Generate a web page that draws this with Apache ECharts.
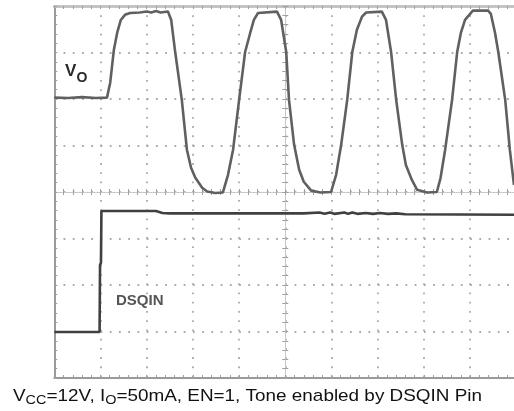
<!DOCTYPE html>
<html><head><meta charset="utf-8">
<script src="https://cdn.jsdelivr.net/npm/echarts@6/dist/echarts.min.js"></script>
<style>html,body{margin:0;padding:0;background:#fff}#c{width:514px;height:411px}</style>
</head><body><div id="c"></div>
<script>
// Time axis in scope divisions (0..10), level in vertical divisions (-4..4, 0 = centre line)
const voTime = [0, 0.3, 0.6, 0.9, 1.14, 1.21, 1.29, 1.36, 1.44, 1.53, 1.64, 1.85, 2.0, 2.1, 2.2, 2.3, 2.46,
  2.53, 2.61, 2.76, 2.87, 2.96, 3.05, 3.20, 3.31, 3.48, 3.65,
  3.76, 3.87, 4.00, 4.13, 4.24, 4.32, 4.41, 4.82,
  4.91, 5.02, 5.08, 5.19, 5.30, 5.40, 5.56, 5.76, 5.99,
  6.10, 6.21, 6.34, 6.45, 6.55, 6.66, 6.75, 7.09,
  7.18, 7.29, 7.40, 7.53, 7.61, 7.74, 7.85, 8.07, 8.28,
  8.36, 8.46, 8.61, 8.72, 8.80, 8.89, 9.06, 9.39,
  9.45, 9.54, 9.61, 9.76, 9.86, 9.95];
const voLevel = [2.03, 2.02, 2.04, 2.02, 2.03, 2.35, 3.06, 3.42, 3.70, 3.81, 3.85, 3.86, 3.88, 3.86, 3.89, 3.86, 3.88,
  3.70, 3.06, 1.98, 0.91, 0.52, 0.31, 0.09, 0.01, -0.02, -0.01,
  0.37, 0.91, 1.98, 3.01, 3.42, 3.70, 3.85, 3.88,
  3.70, 3.01, 1.98, 1.02, 0.48, 0.22, 0.03, -0.01, 0.0,
  0.37, 1.02, 1.98, 3.01, 3.49, 3.77, 3.86, 3.88,
  3.70, 3.01, 1.98, 1.02, 0.58, 0.26, 0.05, -0.01, 0.0,
  0.30, 0.91, 1.98, 3.01, 3.42, 3.70, 3.90, 3.90,
  3.83, 3.42, 3.01, 1.98, 0.91, 0.15];
const dsqTime = [0, 0.98, 0.99, 1.01, 1.02, 2.2, 2.27, 2.3, 2.34, 2.5, 5.4,
  5.74, 5.85, 5.97, 6.06, 6.28, 6.36, 6.45, 6.56, 6.74, 6.9, 7.05, 7.22, 7.4, 7.6, 10];
const dsqLevel = [-3.01, -3.01, -1.57, -1.52, -0.41, -0.41, -0.43, -0.40, -0.45, -0.46, -0.46,
  -0.44, -0.47, -0.44, -0.47, -0.44, -0.47, -0.44, -0.47, -0.45, -0.47, -0.45, -0.47, -0.46, -0.48, -0.49];
const captionPieces = ['V', 'CC', '=12V, I', 'O', '=50mA, EN=1, Tone enabled by DSQIN Pin'];
const captionIsSub = [false, true, false, true, false];

const FONT = '"Liberation Sans", Arial, sans-serif';
const gridBox = {left: 54.3, top: 6, right: -2.3, bottom: 33, outerBoundsMode: 'none', containLabel: false};
const tickCol = '#a0a0a0';

function axisCommon(extra) {
  return Object.assign({
    type: 'value', axisLabel: {show: false}, splitLine: {show: false},
    axisTick: {show: true, inside: true, length: 3, lineStyle: {color: tickCol, width: 1}},
    minorTick: {show: true, splitNumber: 5, length: 3, lineStyle: {color: tickCol, width: 1}}
  }, extra);
}
const dotted = {show: true, lineStyle: {color: '#ababab', width: 1.8, type: [1.8, 7.44]}};

// caption layout measured with canvas
const mc = document.createElement('canvas').getContext('2d');
const mainSize = 17, subSize = 13;
let cx = 0; const capChildren = [];
captionPieces.forEach((t, i) => {
  const sz = captionIsSub[i] ? subSize : mainSize;
  mc.font = sz + 'px ' + FONT;
  capChildren.push({type: 'text', x: cx, y: captionIsSub[i] ? 400.5 : 396,
    style: {text: t, fontSize: sz, fontFamily: FONT, fill: '#111', align: 'left', verticalAlign: 'middle'}});
  cx += mc.measureText(t).width;
});
const capScale = (482 - 13) / cx;

const chart = echarts.init(document.getElementById('c'), null, {renderer: 'canvas'});
chart.setOption({
  animation: false,
  backgroundColor: '#fff',
  grid: [Object.assign({}, gridBox), Object.assign({}, gridBox), Object.assign({}, gridBox)],
  xAxis: [
    axisCommon({gridIndex: 0, min: 0, max: 10, interval: 1, position: 'bottom',
      axisLine: {show: true, onZero: false, lineStyle: {color: '#9a9a9a', width: 2}}, splitLine: dotted}),
    axisCommon({gridIndex: 0, min: 0, max: 10, interval: 1, position: 'top',
      axisLine: {show: true, onZero: false, lineStyle: {color: '#c4c4c4', width: 3}}}),
    axisCommon({gridIndex: 1, min: -5, max: 5, interval: 1, position: 'bottom',
      axisLine: {show: true, onZero: true, lineStyle: {color: '#c8c8c8', width: 1}}}),
    axisCommon({gridIndex: 2, min: -5, max: 5, interval: 1, position: 'top',
      axisLine: {show: false, onZero: true}})
  ],
  yAxis: [
    axisCommon({gridIndex: 0, min: -4, max: 4, interval: 1, position: 'left',
      axisLine: {show: true, onZero: false, lineStyle: {color: '#9a9a9a', width: 2}}, splitLine: dotted}),
    axisCommon({gridIndex: 1, min: -4, max: 4, interval: 1, position: 'left',
      axisLine: {show: true, onZero: true, lineStyle: {color: '#c8c8c8', width: 1}}}),
    axisCommon({gridIndex: 2, min: -4, max: 4, interval: 1, position: 'right',
      axisLine: {show: false, onZero: true}})
  ],
  series: [
    {type: 'line', xAxisIndex: 0, yAxisIndex: 0, symbol: 'none', z: 5,
      data: voTime.map((t, i) => [t, voLevel[i]]),
      lineStyle: {color: '#606060', width: 2.6}},
    {type: 'line', xAxisIndex: 0, yAxisIndex: 0, symbol: 'none', z: 5,
      data: dsqTime.map((t, i) => [t, dsqLevel[i]]),
      lineStyle: {color: '#404040', width: 2.6}}
  ],
  graphic: [
    {type: 'text', x: 65, y: 71, z: 10, style: {text: 'V', fontSize: 17, fontWeight: 'bold', fontFamily: FONT, fill: '#2a2a2a', align: 'left', verticalAlign: 'middle'}},
    {type: 'text', x: 76.5, y: 78.5, z: 10, style: {text: 'O', fontSize: 14, fontWeight: 'bold', fontFamily: FONT, fill: '#2a2a2a', align: 'left', verticalAlign: 'middle'}},
    {type: 'text', x: 116, y: 301, z: 10, style: {text: 'DSQIN', fontSize: 15, fontWeight: 'bold', fontFamily: FONT, fill: '#555', align: 'left', verticalAlign: 'middle'}},
    {type: 'group', x: 13, y: 0, scaleX: capScale, z: 10, children: capChildren}
  ]
});
</script></body></html>
